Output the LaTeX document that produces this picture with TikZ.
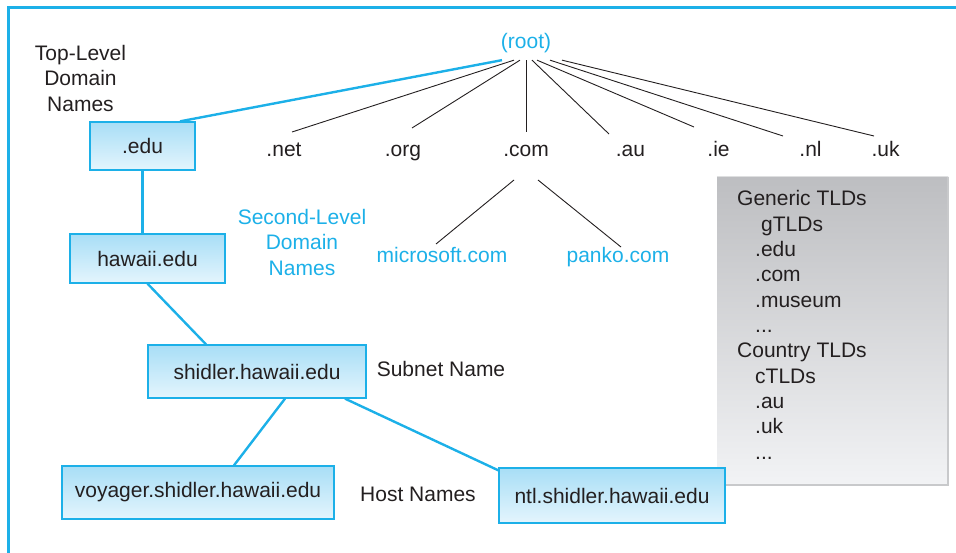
\documentclass[tikz,border=0pt]{standalone}
\usepackage{fontspec}
\setmainfont{Liberation Sans}
\definecolor{dnscyan}{RGB}{28,176,232}
\definecolor{ink}{RGB}{35,31,32}
\definecolor{boxtop}{RGB}{168,222,246}
\definecolor{boxbot}{RGB}{228,245,253}
\definecolor{graytop}{RGB}{189,190,193}
\definecolor{graybot}{RGB}{242,243,245}
\definecolor{grayedge}{RGB}{200,201,203}
\begin{document}
\begin{tikzpicture}[x=1pt,y=-1pt,
  lbl/.style={inner sep=0pt, text=ink, font=\fontsize{21}{25.5}\selectfont, align=center},
  bluelbl/.style={lbl, text=dnscyan},
  dnsbox/.style={draw=dnscyan, line width=1.3pt, top color=boxtop, bottom color=boxbot,
    text=ink, font=\fontsize{21}{25.5}\selectfont, inner sep=0pt},
  graybox/.style={top color=graytop, bottom color=graybot, draw=none, inner sep=0pt},
  thinlink/.style={draw=ink, line width=0.9pt},
  bluelink/.style={draw=dnscyan, line width=2.4pt},
  frameline/.style={draw=dnscyan, line width=2.4pt}]

\useasboundingbox (0,0) rectangle (956,553);

% frame
\draw[frameline] (956,7.5) -- (8.5,7.5) -- (8.5,553);

% root and top-level labels
\node[bluelbl, anchor=base] (root) at (526,49) {(root)};
\node[lbl, anchor=base] (net) at (284,157) {.net};
\node[lbl, anchor=base] (org) at (403,157) {.org};
\node[lbl, anchor=base] (com) at (526,157) {.com};
\node[lbl, anchor=base] (au)  at (630.5,157) {.au};
\node[lbl, anchor=base] (ie)  at (718.5,157) {.ie};
\node[lbl, anchor=base] (nl)  at (810.5,157) {.nl};
\node[lbl, anchor=base] (uk)  at (885.5,157) {.uk};

\node[lbl] (tlname) at (80.5,78) {Top-Level\\Domain\\Names};
\node[bluelbl] (slname) at (302,242) {Second-Level\\Domain\\Names};

\node[bluelbl, anchor=base] (ms) at (442,263) {microsoft.com};
\node[bluelbl, anchor=base] (pk) at (618,263) {panko.com};

\node[lbl, anchor=base] (subnet) at (441,377) {Subnet Name};
\node[lbl, anchor=base] (hosts) at (418,501) {Host Names};

% gray TLD box
\node[graybox, minimum width=231, minimum height=308] (tlds) at (832.5,331) {};
\draw[grayedge, line width=2.5pt] (tlds.north east) -- (tlds.south east) -- (tlds.south west);
\draw[grayedge!60, line width=1pt] (tlds.north west) -- (tlds.north east);
\node[lbl, anchor=base west] (g1)  at (737,206)   {Generic TLDs};
\node[lbl, anchor=base west] (g2)  at (761,231.3) {gTLDs};
\node[lbl, anchor=base west] (g3)  at (755,256.6) {.edu};
\node[lbl, anchor=base west] (g4)  at (755,281.9) {.com};
\node[lbl, anchor=base west] (g5)  at (755,307.2) {.museum};
\node[lbl, anchor=base west] (g6)  at (755,332.5) {...};
\node[lbl, anchor=base west] (g7)  at (737,357.8) {Country TLDs};
\node[lbl, anchor=base west] (g8)  at (755,383.1) {cTLDs};
\node[lbl, anchor=base west] (g9)  at (755,408.4) {.au};
\node[lbl, anchor=base west] (g10) at (755,433.7) {.uk};
\node[lbl, anchor=base west] (g11) at (755,459)   {...};

% boxes
\node[dnsbox, minimum width=105, minimum height=48] (edu) at (142.5,146) {.edu};
\node[dnsbox, minimum width=155, minimum height=49] (hawaii) at (147.5,258.5) {hawaii.edu};
\node[dnsbox, minimum width=218, minimum height=53] (shidler) at (257,371.5) {shidler.hawaii.edu};
\node[dnsbox, minimum width=272, minimum height=53] (voyager) at (198,492.5) {voyager.shidler.hawaii.edu};
\node[dnsbox, minimum width=226, minimum height=55] (ntl) at (612,495.5) {ntl.shidler.hawaii.edu};

% fan-out points under root
\path (root.south) ++(-24,6.6) coordinate (f-edu);
\path (root.south) ++(-12,6.6) coordinate (f-net);
\path (root.south) ++(-6,6.6)  coordinate (f-org);
\path (root.south) ++(0,6.6)   coordinate (f-com);
\path (root.south) ++(6,6.6)   coordinate (f-au);
\path (root.south) ++(11,6.6)  coordinate (f-ie);
\path (root.south) ++(24,6.6)  coordinate (f-nl);
\path (root.south) ++(36,6.6)  coordinate (f-uk);
% line ends above TLD labels
\coordinate (e-net) at (292,132);
\coordinate (e-org) at (412,128);
\coordinate (e-com) at (526,132);
\coordinate (e-au)  at (609,134);
\coordinate (e-ie)  at (694,127);
\coordinate (e-nl)  at (783,136);
\coordinate (e-uk)  at (874,136);
\coordinate (c-l) at (514,180);
\coordinate (c-r) at (538,180);
\coordinate (e-ms) at (436,244);
\coordinate (e-pk) at (621,247);

\draw[bluelink] (f-edu) -- ([xshift=37.5pt]edu.north);
\draw[thinlink] (f-net) -- (e-net);
\draw[thinlink] (f-org) -- (e-org);
\draw[thinlink] (f-com) -- (e-com);
\draw[thinlink] (f-au) -- (e-au);
\draw[thinlink] (f-ie) -- (e-ie);
\draw[thinlink] (f-nl) -- (e-nl);
\draw[thinlink] (f-uk) -- (e-uk);
\draw[thinlink] (c-l) -- (e-ms);
\draw[thinlink] (c-r) -- (e-pk);

\draw[bluelink] (edu.south) -- (edu.south |- hawaii.north);
\draw[bluelink] (hawaii.south) -- ([xshift=-51pt]shidler.north);
\draw[bluelink] ([xshift=28pt]shidler.south) -- ([xshift=36pt]voyager.north);
\draw[bluelink] ([xshift=88pt]shidler.south) -- ([yshift=-3pt]ntl.north west);
\end{tikzpicture}
\end{document}
